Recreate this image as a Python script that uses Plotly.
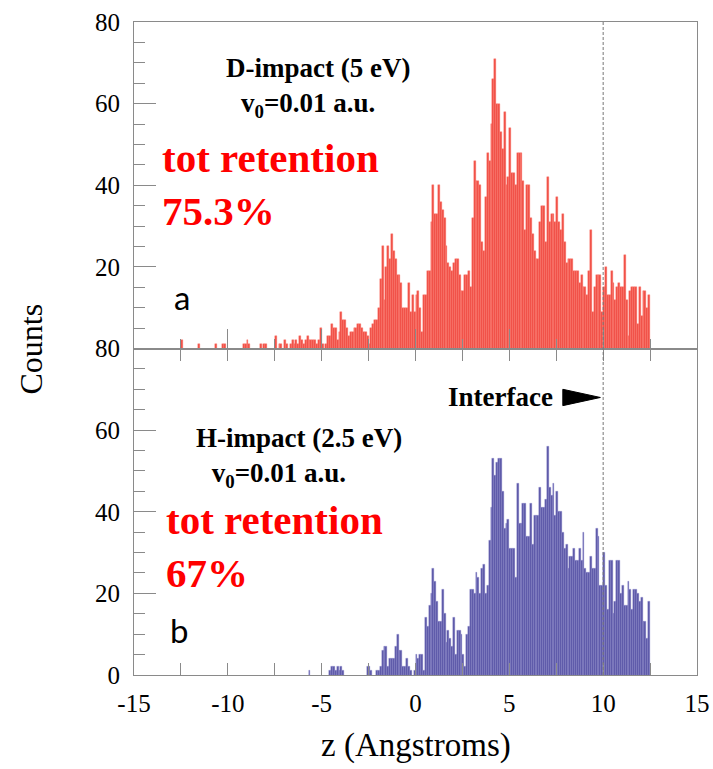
import numpy as np
import plotly.graph_objects as go

# Histogram binning along z (Angstroms)
z_start = -12.5
bin_width = 0.1

# Panel (a): D-impact, 5 eV, counts per 0.1 A bin from z = -12.5 to 12.5
d_counts = [
    2, 0, 0, 0, 0, 0, 0, 0, 0, 1,        # -12.5 .. -11.6
    0, 0, 0, 0, 0, 0, 0, 0, 1, 0,        # -11.5 .. -10.6
    0, 0, 1, 1, 0, 0, 0, 0, 0, 0,        # -10.5 .. -9.6
    0, 0, 0, 1, 1, 2, 1, 0, 0, 0,        # -9.5 .. -8.6
    0, 0, 1, 0, 1, 1, 0, 0, 0, 0,        # -8.5 .. -7.6
    3, 0, 1, 1, 0, 2, 1, 0, 1, 2,        # -7.5 .. -6.6
    1, 2, 1, 3, 2, 1, 2, 3, 2, 2,        # -6.5 .. -5.6
    2, 2, 1, 2, 5, 1, 0, 1, 3, 3,        # -5.5 .. -4.6
    6, 5, 5, 2, 4, 9, 7, 7, 5, 3,        # -4.5 .. -3.6
    4, 4, 5, 5, 6, 6, 5, 4, 4, 3,        # -3.5 .. -2.6
    1, 5, 6, 7, 7, 10, 17, 25, 12, 20,   # -2.5 .. -1.6
    25, 22, 28, 24, 22, 18, 18, 16, 10, 10,  # -1.5 .. -0.6
    10, 16, 9, 13, 9, 13, 14, 10, 4, 13,     # -0.5 .. 0.4
    13, 19, 19, 31, 40, 33, 33, 40, 36, 34,  # 0.5 .. 1.4
    32, 25, 21, 20, 19, 21, 22, 22, 18, 14,  # 1.5 .. 2.4
    14, 18, 18, 19, 15, 32, 46, 41, 41, 40,  # 2.5 .. 3.4
    26, 24, 37, 48, 46, 55, 66, 71, 60, 60,  # 3.5 .. 4.4
    53, 49, 58, 40, 42, 54, 43, 43, 40, 48,  # 4.5 .. 5.4
    48, 48, 41, 29, 40, 40, 32, 28, 24, 22,  # 5.5 .. 6.4
    22, 31, 35, 35, 26, 42, 31, 33, 33, 31,  # 6.5 .. 7.4
    37, 31, 29, 33, 26, 21, 22, 22, 22, 19,  # 7.5 .. 8.4
    19, 19, 16, 18, 15, 15, 13, 19, 29, 9,   # 8.5 .. 9.4
    15, 18, 18, 18, 9, 15, 20, 13, 13, 19,   # 9.5 .. 10.4
    16, 12, 15, 16, 15, 15, 23, 12, 3, 14,   # 10.5 .. 11.4
    15, 15, 15, 6, 15, 8, 14, 14, 10, 13,    # 11.5 .. 12.4
]

# Panel (b): H-impact, 2.5 eV, same binning
h_counts = [
    0, 0, 0, 0, 0, 0, 0, 0, 0, 0,        # -12.5 .. -11.6
    0, 0, 0, 0, 0, 0, 0, 0, 0, 0,        # -11.5 .. -10.6
    0, 0, 0, 0, 0, 0, 0, 0, 0, 0,        # -10.5 .. -9.6
    0, 0, 0, 0, 0, 0, 0, 0, 0, 0,        # -9.5 .. -8.6
    0, 0, 0, 0, 0, 0, 0, 0, 0, 0,        # -8.5 .. -7.6
    0, 0, 0, 0, 0, 0, 0, 0, 0, 0,        # -7.5 .. -6.6
    0, 0, 0, 0, 0, 0, 0, 0, 1, 0,        # -6.5 .. -5.6
    0, 0, 0, 0, 0, 0, 0, 0, 0, 1,        # -5.5 .. -4.6
    2, 2, 1, 2, 1, 2, 1, 0, 0, 0,        # -4.5 .. -3.6
    0, 0, 0, 0, 0, 0, 0, 0, 0, 2,        # -3.5 .. -2.6
    2, 1, 0, 0, 1, 1, 2, 6, 7, 7,        # -2.5 .. -1.6
    2, 4, 4, 4, 7, 10, 6, 6, 2, 2,       # -1.5 .. -0.6
    4, 2, 1, 0, 1, 5, 4, 5, 5, 1,        # -0.5 .. 0.4
    14, 12, 17, 20, 26, 23, 18, 13, 13, 21,  # 0.5 .. 1.4
    15, 8, 11, 9, 7, 14, 5, 11, 11, 10,      # 1.5 .. 2.4
    5, 2, 10, 12, 21, 21, 20, 25, 24, 20,    # 2.5 .. 3.4
    26, 27, 20, 22, 33, 41, 53, 49, 52, 53,  # 3.5 .. 4.4
    53, 45, 36, 37, 38, 31, 31, 31, 24, 47,  # 4.5 .. 5.4
    37, 37, 42, 42, 34, 34, 42, 32, 39, 39,  # 5.5 .. 6.4
    39, 46, 41, 41, 43, 56, 46, 44, 47, 39,  # 6.5 .. 7.4
    45, 40, 40, 35, 31, 32, 26, 29, 29, 31,  # 7.5 .. 8.4
    28, 28, 31, 28, 35, 26, 25, 25, 29, 26,  # 8.5 .. 9.4
    26, 36, 34, 22, 22, 30, 22, 16, 28, 28,  # 9.5 .. 10.4
    15, 18, 28, 28, 20, 22, 17, 17, 23, 21,  # 10.5 .. 11.4
    16, 21, 21, 20, 18, 19, 13, 13, 9, 18,   # 11.5 .. 12.4
]

# Axis ticks
x_tick_vals = [-15, -10, -5, 0, 5, 10, 15]
x_tick_text = ["-15", "-10", "-5", "0", "5", "10", "15"]
y_top_ticks = [20, 40, 60, 80]
y_bottom_ticks = [0, 20, 40, 60, 80]
interface_z = 10

z_centers = z_start + bin_width * (np.arange(len(d_counts)) + 0.5)
d_arr = np.array(d_counts)
h_arr = np.array(h_counts)
d_keep = d_arr > 0   # empty bins are left undrawn
h_keep = h_arr > 0

SERIF = "Liberation Serif"
FRAME = "#8a8a8a"
NBSP = "&nbsp;"

fig = go.Figure()
fig.add_trace(go.Bar(
    x=z_centers[d_keep], y=d_arr[d_keep], width=bin_width, xaxis="x", yaxis="y",
    marker=dict(color="rgb(240,78,68)", line=dict(color="rgb(252,120,110)", width=0.4)),
    showlegend=False,
))
fig.add_trace(go.Bar(
    x=z_centers[h_keep], y=h_arr[h_keep], width=bin_width, xaxis="x2", yaxis="y2",
    marker=dict(color="rgb(90,86,166)", line=dict(color="rgb(140,136,205)", width=0.4)),
    showlegend=False,
))

tick_font = dict(family=SERIF, size=25, color="black")

common_x = dict(range=[-15, 15], showline=True, linecolor=FRAME, linewidth=1,
                showgrid=False, zeroline=False, automargin=False)
common_y = dict(range=[0, 80], showline=True, linecolor=FRAME, linewidth=1,
                mirror=True, showgrid=False, zeroline=False, ticks="inside",
                ticklen=22, tickcolor=FRAME, tickfont=tick_font, ticklabelstandoff=8,
                automargin=False,
                minor=dict(tickmode="linear", tick0=0, dtick=5, ticks="inside",
                           ticklen=11, tickcolor=FRAME))

fig.update_layout(
    width=713, height=769,
    margin=dict(l=134, r=16, t=22, b=94, autoexpand=False),
    paper_bgcolor="white", plot_bgcolor="white",
    bargap=0,
    xaxis=dict(common_x, anchor="y", domain=[0, 1], mirror=True, ticks="inside",
               tickmode="linear", tick0=-15, dtick=5, ticklen=20, tickcolor=FRAME,
               showticklabels=False,
               minor=dict(tickmode="linear", tick0=-15, dtick=2.5, ticks="inside",
                          ticklen=10, tickcolor=FRAME)),
    yaxis=dict(common_y, anchor="x", domain=[0.5, 1], tickvals=y_top_ticks),
    xaxis2=dict(common_x, anchor="y2", domain=[0, 1], mirror="allticks", ticks="inside",
                tickvals=x_tick_vals, ticktext=x_tick_text, ticklen=12, tickcolor=FRAME,
                tickfont=tick_font, ticklabelstandoff=6, ticklabeloverflow="allow",
                minor=dict(tickmode="linear", tick0=-15, dtick=2.5, ticks="inside",
                           ticklen=12, tickcolor=FRAME)),
    yaxis2=dict(common_y, anchor="x2", domain=[0, 0.5], tickvals=y_bottom_ticks),
)

# Interface marker
fig.add_shape(type="line", xref="x", yref="paper", x0=interface_z, x1=interface_z,
              y0=0, y1=1, line=dict(color="#777777", width=1, dash="3px,2px"))
fig.add_shape(type="path", xref="x2", yref="y2",
              path="M 7.85,70 L 9.85,68 L 7.85,66 Z",
              fillcolor="black", line=dict(color="black", width=1))

bold_black = dict(family=SERIF, size=27, color="black", weight="bold")
red_big = dict(family=SERIF, size=41, color="#ff0000", weight="bold")
label_font = dict(family="Lato", size=33, color="black")

annotations = [
    # panel a
    dict(x=-5.2, y=64, xref="x", yref="y", align="center", font=bold_black,
         text="D-impact (5 eV)<br>v<sub>0</sub>=0.01 a.u." + NBSP * 3),
    dict(x=-13.6, y=40.3, xref="x", yref="y", xanchor="left", align="left",
         text="tot retention<br>75.3%", font=red_big),
    dict(x=-13.0, y=12.5, xref="x", yref="y", xanchor="left", text="a", font=label_font),
    # panel b
    dict(x=7.45, y=68, xref="x2", yref="y2", xanchor="right", text="Interface", font=bold_black),
    dict(x=-6.2, y=53.2, xref="x2", yref="y2", align="center", font=bold_black,
         text="H-impact (2.5 eV)<br>v<sub>0</sub>=0.01 a.u." + NBSP * 6),
    dict(x=-13.4, y=31.4, xref="x2", yref="y2", xanchor="left", align="left",
         text="tot retention<br>67%", font=red_big),
    dict(x=-13.2, y=11, xref="x2", yref="y2", xanchor="left", text="b", font=label_font),
    # axis titles
    dict(x=-0.183, y=0.5, xref="paper", yref="paper", xanchor="center", text="Counts",
         textangle=-90, font=dict(family=SERIF, size=32, color="black")),
    dict(x=0.5, y=-0.108, xref="paper", yref="paper", text="z (Angstroms)",
         font=dict(family=SERIF, size=33, color="black")),
]
for a in annotations:
    a.setdefault("showarrow", False)
    a.setdefault("xanchor", "center")
    a.setdefault("yanchor", "middle")
fig.update_layout(annotations=annotations)

fig.write_html("out.html")
